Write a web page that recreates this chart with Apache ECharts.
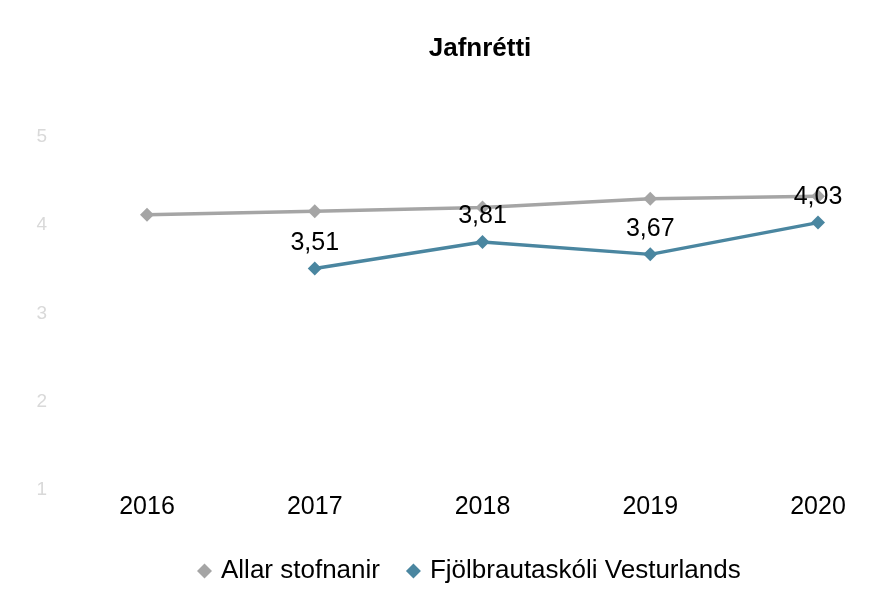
<!DOCTYPE html>
<html>
<head>
<meta charset="utf-8">
<script src="https://cdn.jsdelivr.net/npm/echarts@6/dist/echarts.min.js"></script>
<style>
  html, body { margin: 0; padding: 0; background: #fff; }
  #main { width: 874px; height: 589px; }
</style>
</head>
<body>
<div id="main"></div>
<script>
var years = ['2016', '2017', '2018', '2019', '2020'];
var allarValues = [4.12, 4.16, 4.20, 4.30, 4.33];
var fvValues = [null, 3.51, 3.81, 3.67, 4.03];
var yTicks = [1, 2, 3, 4, 5];

var myChart = echarts.init(document.getElementById('main'));

var option = {
    backgroundColor: '#fff',
    textStyle: { fontFamily: 'Liberation Sans, Arial, sans-serif' },
    title: {
        text: 'Jafnrétti',
        left: 475,
        textAlign: 'center',
        top: 31,
        textStyle: { fontSize: 26, fontWeight: 'bold', color: '#000' }
    },
    legend: {
        bottom: 0,
        left: 192,
        itemWidth: 15,
        itemHeight: 15,
        itemGap: 26,
        textStyle: { fontSize: 26, color: '#000', padding: [0, 0, 0, 4] },
        data: [
            { name: 'Allar stofnanir', icon: 'diamond' },
            { name: 'Fjölbrautaskóli Vesturlands', icon: 'diamond' }
        ]
    },
    grid: {
        left: 147,
        right: 56,
        top: 137,
        bottom: 99
    },
    xAxis: {
        type: 'category',
        boundaryGap: false,
        data: years,
        axisLine: { show: false },
        axisTick: { show: false },
        axisLabel: { fontSize: 25, color: '#000', margin: 5 }
    },
    yAxis: {
        type: 'value',
        min: yTicks[0],
        max: yTicks[yTicks.length - 1],
        interval: 1,
        splitLine: { show: false },
        axisLine: { show: false },
        axisTick: { show: false },
        axisLabel: { fontSize: 19, color: '#d9d9d9', margin: 100 }
    },
    series: [
        {
            name: 'Allar stofnanir',
            type: 'line',
            data: allarValues,
            symbol: 'diamond',
            symbolSize: 14,
            itemStyle: { color: '#a5a5a5' },
            lineStyle: { color: '#a5a5a5', width: 3.5 }
        },
        {
            name: 'Fjölbrautaskóli Vesturlands',
            type: 'line',
            data: fvValues,
            symbol: 'diamond',
            symbolSize: 14,
            itemStyle: { color: '#4a86a0' },
            lineStyle: { color: '#4a86a0', width: 3.5 },
            label: {
                show: true,
                position: 'top',
                distance: 6,
                fontSize: 25,
                color: '#000',
                formatter: function (p) {
                    return p.value == null ? '' : p.value.toFixed(2).replace('.', ',');
                }
            }
        }
    ]
};

myChart.setOption(option);
</script>
</body>
</html>
